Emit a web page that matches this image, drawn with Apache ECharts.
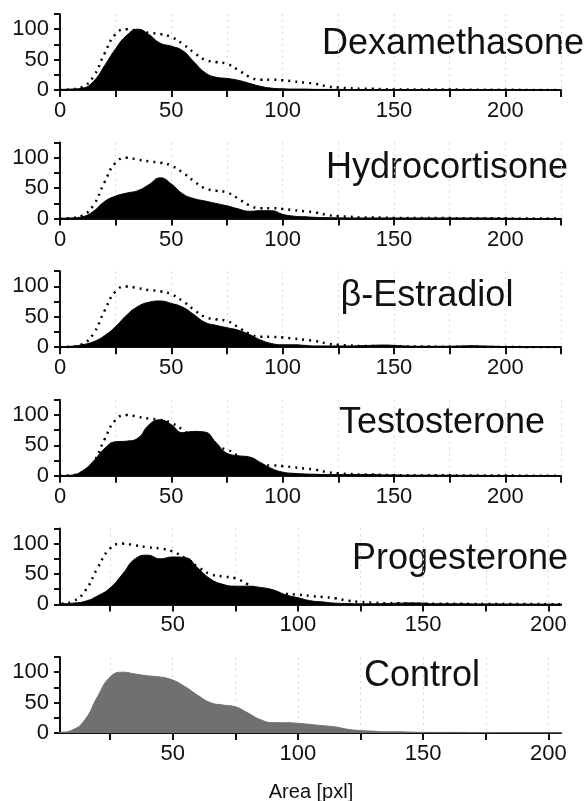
<!DOCTYPE html>
<html>
<head>
<meta charset="utf-8">
<script src="https://cdn.jsdelivr.net/npm/echarts@6/dist/echarts.min.js"></script>
<style>
  html, body { margin: 0; padding: 0; background: #fff; }
  #chart { width: 586px; height: 801px; }
</style>
</head>
<body>
<div id="chart"></div>
<script>
// Area [pxl] 取样点, 每 5 一个
const areaX = [0, 5, 10, 15, 20, 25, 30, 35, 40, 45, 50, 55, 60, 65, 70, 75, 80, 85, 90, 95,
  100, 105, 110, 115, 120, 125, 130, 135, 140, 145, 150, 155, 160, 165, 170, 175, 180, 185, 190, 195,
  200, 205, 210, 215, 220, 225];

// 对照组 (点线 + 最后一幅灰色)
const controlVals = [0, 1, 5, 22, 60, 92, 100, 97, 94, 92, 87, 76, 62, 50, 46, 43, 33, 22, 17, 17,
  16, 14, 12, 10, 6, 4, 3, 2, 2, 1.5, 1, 1, 1, 1, 0.8, 0.8, 0.6, 0.6, 0.5, 0.5,
  0.4, 0.3, 0, 0, 0, 0];
const dexaVals = [1, 1.5, 3, 14, 40, 68, 90, 100, 91, 77, 72, 65, 47, 29, 21, 19, 16, 11, 6, 3,
  2, 1.5, 1.5, 1, 1, 1, 0.8, 0.8, 0.8, 0.8, 0.7, 0.7, 0.6, 0.6, 0.6, 0.5, 0.5, 0.5, 0.5, 0.5,
  0.5, 0.4, 0, 0, 0, 0];
const hydroVals = [0.5, 1, 3, 12, 28, 37, 42, 46, 56, 67, 57, 41, 33, 29, 25, 21, 16, 12, 13, 13,
  7, 4, 3, 2, 1.5, 1.2, 1, 1, 1, 1, 1, 1, 1, 1, 1, 1, 1, 1, 1, 0.8,
  0.6, 0.4, 0, 0, 0, 0];
const estraVals = [1, 1.5, 4, 9, 19, 34, 53, 67, 74, 76, 72, 66, 54, 41, 36, 32, 28, 21, 12, 6,
  4, 4, 3, 2, 2, 2, 2, 2.5, 3, 3.5, 3, 2, 1.5, 1.5, 1.5, 1.5, 2, 2.5, 2, 1.5,
  1, 0.5, 0, 0, 0, 0];
const testoVals = [0, 1, 8, 24, 45, 56, 57, 62, 84, 92, 84, 71, 73, 72, 55, 37, 33, 31, 22, 12,
  6, 4, 3, 2.5, 2, 2, 2, 2, 2, 1.5, 1.5, 1, 1, 1, 1, 1, 0.8, 0.8, 0.6, 0.6,
  0.5, 0.4, 0, 0, 0, 0];
const progeVals = [0.5, 1, 2, 5, 14, 27, 50, 75, 81, 75, 78, 77, 60, 42, 33, 30, 30, 28, 24, 16,
  11, 6, 4, 2, 1.5, 1, 1, 1.5, 2, 2.5, 2, 1, 1, 1, 0.8, 0.8, 0.8, 0.6, 0.6, 0.5,
  0.5, 0.4, 0, 0, 0, 0];

const panelNames = ["Dexamethasone", "Hydrocortisone", "β-Estradiol", "Testosterone", "Progesterone", "Control"];
const panelVals = [dexaVals, hydroVals, estraVals, testoVals, progeVals, controlVals];
// 标题中心位置
const titlePos = [[453, 44], [447, 168], [427, 296], [442, 423], [460, 559], [422, 676]];

const yTicks = [0, 25, 50, 75, 100, 125];
const xTicksWide = [0, 25, 50, 75, 100, 125, 150, 175, 200, 225];
const xLabelsWide = [0, 50, 100, 150, 200];
const xTicksNarrow = [25, 50, 75, 100, 125, 150, 175, 200];
const xLabelsNarrow = [50, 100, 150, 200];

const FONT = "'Liberation Sans', Arial, sans-serif";
const toPairs = (vals) => areaX.map((x, k) => [x, vals[k]]);

const grids = [], xAxes = [], yAxes = [], series = [], texts = [];
panelNames.forEach((name, i) => {
  const base = 90 + 128.6 * i; // y=0 的像素位置
  const narrow = i >= 4; // 最后两幅 x 轴从 5 到 205
  grids.push({ left: 60, width: 501, top: base - 76, height: 76 });
  xAxes.push({
    gridIndex: i,
    type: "value",
    min: narrow ? 5 : 0,
    max: narrow ? 205 : 225,
    axisLine: { onZero: false, lineStyle: { color: "#111", width: 2 } },
    axisTick: { customValues: narrow ? xTicksNarrow : xTicksWide, length: 7, lineStyle: { color: "#111", width: 2 } },
    axisLabel: { customValues: narrow ? xLabelsNarrow : xLabelsWide, color: "#111", fontSize: 22, fontFamily: FONT, margin: 10 },
    splitLine: { show: true, lineStyle: { color: "#d8d8d8", type: [2, 4], width: 1 } },
  });
  yAxes.push({
    gridIndex: i,
    type: "value",
    min: 0,
    max: 125,
    axisLine: { show: true, lineStyle: { color: "#111", width: 2 } },
    axisTick: { show: true, customValues: yTicks, length: 6, lineStyle: { color: "#111", width: 2 } },
    axisLabel: { customValues: [0, 50, 100], color: "#111", fontSize: 22, fontFamily: FONT, margin: 11 },
    splitLine: { show: false },
  });
  series.push({
    type: "line",
    xAxisIndex: i,
    yAxisIndex: i,
    data: toPairs(panelVals[i]),
    smooth: 0.5,
    showSymbol: false,
    lineStyle: { width: 1, color: i === 5 ? "#707070" : "#000" },
    areaStyle: { color: i === 5 ? "#707070" : "#000", opacity: 1 },
    z: 2,
  });
  if (i < 5) {
    series.push({
      type: "line",
      xAxisIndex: i,
      yAxisIndex: i,
      data: toPairs(controlVals),
      smooth: 0.5,
      showSymbol: false,
      lineStyle: { width: 2.5, color: "#000", type: [2, 5] },
      z: 3,
    });
  }
  texts.push({
    type: "text",
    x: titlePos[i][0],
    y: titlePos[i][1],
    style: { text: name, fontSize: 36, fontFamily: FONT, fill: "#111", align: "center", verticalAlign: "middle" },
  });
});
texts.push({
  type: "text",
  x: 311,
  y: 792,
  style: { text: "Area [pxl]", fontSize: 20, fontFamily: FONT, fill: "#111", align: "center", verticalAlign: "middle" },
});

const myChart = echarts.init(document.getElementById("chart"));
myChart.setOption({
  animation: false,
  backgroundColor: "#fff",
  grid: grids,
  xAxis: xAxes,
  yAxis: yAxes,
  series: series,
  graphic: texts,
});
</script>
</body>
</html>
